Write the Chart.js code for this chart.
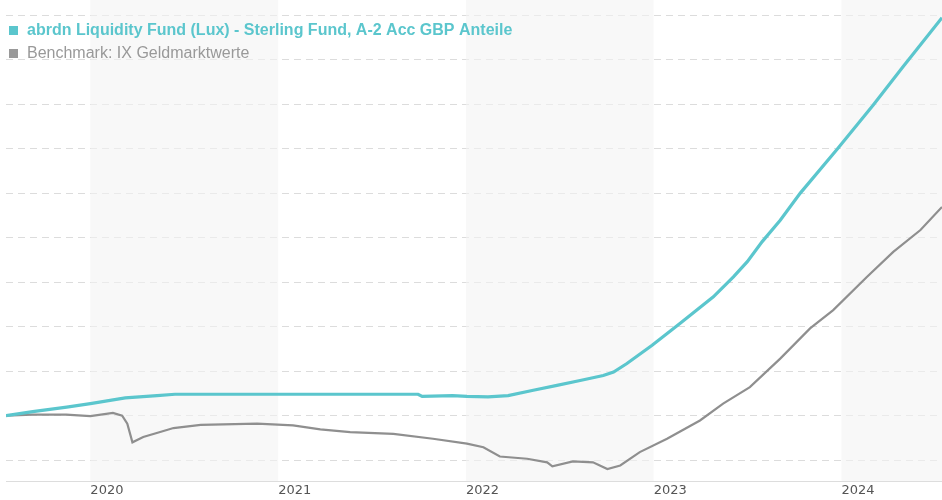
<!DOCTYPE html>
<html>
<head>
<meta charset="utf-8">
<script src="https://cdn.jsdelivr.net/npm/chart.js@4"></script>
<style>
  html, body { margin: 0; padding: 0; background: #ffffff; }
  #wrap { position: relative; width: 942px; height: 500px; }
</style>
</head>
<body>
<div id="wrap"><canvas id="c" width="942" height="500"></canvas></div>
<script>
// ---- Data (cumulative performance, %) ----
const fundName = 'abrdn Liquidity Fund (Lux) - Sterling Fund, A-2 Acc GBP Anteile';
const benchName = 'Benchmark: IX Geldmarktwerte';

const fundDates = ['2019-07-21','2019-09-11','2019-11-16','2020-01-01','2020-03-09','2020-05-10','2020-06-14',
  '2021-09-30','2021-10-08','2021-12-06','2022-01-03','2022-02-13','2022-03-24','2022-05-12','2022-06-27',
  '2022-08-11','2022-09-25','2022-10-15','2022-11-10','2022-12-29','2023-02-21','2023-04-27','2023-06-05',
  '2023-07-02','2023-07-31','2023-09-04','2023-10-13','2023-12-24','2024-03-03','2024-04-30','2024-07-15'];
const fundValues = [0.00, 0.09, 0.19, 0.27, 0.40, 0.45, 0.48,
  0.48, 0.43, 0.45, 0.43, 0.42, 0.45, 0.57, 0.68,
  0.79, 0.90, 0.98, 1.17, 1.58, 2.07, 2.67, 3.12,
  3.46, 3.91, 4.39, 5.00, 5.99, 6.98, 7.84, 8.94];

const benchDates = ['2019-07-21','2019-09-10','2019-11-15','2020-01-01','2020-02-14','2020-03-03','2020-03-13',
  '2020-03-23','2020-04-13','2020-05-16','2020-06-11','2020-08-03','2020-11-21','2021-01-30','2021-03-24',
  '2021-05-21','2021-08-13','2021-10-29','2022-01-03','2022-02-04','2022-03-08','2022-04-30','2022-06-08',
  '2022-06-18','2022-07-28','2022-09-05','2022-10-03','2022-10-28','2022-12-05','2023-01-27','2023-04-01',
  '2023-05-16','2023-07-07','2023-09-04','2023-11-01','2023-12-16','2024-02-20','2024-04-11','2024-06-03','2024-07-15'];
const benchValues = [0.00, 0.02, 0.02, -0.01, 0.06, 0.00, -0.18,
  -0.60, -0.48, -0.37, -0.28, -0.21, -0.18, -0.22, -0.31,
  -0.37, -0.41, -0.52, -0.63, -0.71, -0.92, -0.97, -1.05,
  -1.14, -1.03, -1.05, -1.20, -1.12, -0.82, -0.52, -0.11,
  0.27, 0.64, 1.28, 1.96, 2.37, 3.12, 3.68, 4.17, 4.69];

const yearTicks = [2020, 2021, 2022, 2023, 2024];
const shadedYears = [2020, 2022, 2024];
const yGridValues = [-1, 0, 1, 2, 3, 4, 5, 6, 7, 8, 9];

// ---- helpers ----
function decYear(s) {
  const d = new Date(s + 'T00:00:00Z');
  const y = d.getUTCFullYear();
  const a = Date.UTC(y, 0, 1), b = Date.UTC(y + 1, 0, 1);
  return y + (d.getTime() - a) / (b - a);
}
function pts(dates, vals) { return dates.map((d, i) => ({ x: decYear(d), y: vals[i] })); }

const teal = '#5bc6cd';
const grey = '#8f8f8f';

const bandsPlugin = {
  id: 'bands',
  beforeDatasetsDraw(chart) {
    const { ctx, chartArea, scales } = chart;
    ctx.save();
    ctx.fillStyle = 'rgba(243,243,243,0.6)';
    shadedYears.forEach(y => {
      const x0 = Math.max(chartArea.left, scales.x.getPixelForValue(y));
      const x1 = Math.min(chartArea.right, scales.x.getPixelForValue(y + 1));
      if (x1 > x0) ctx.fillRect(x0, 0, x1 - x0, chartArea.bottom - 1);
    });
    ctx.restore();
  }
};

const legendPlugin = {
  id: 'customLegend',
  afterDraw(chart) {
    const ctx = chart.ctx;
    ctx.save();
    ctx.textBaseline = 'alphabetic';
    ctx.textAlign = 'left';
    ctx.fillStyle = teal;
    ctx.fillRect(9, 26, 9, 9);
    ctx.font = 'bold 16px "Liberation Sans", Arial, sans-serif';
    ctx.fillText(fundName, 27, 35);
    ctx.fillStyle = '#999999';
    ctx.fillRect(9, 49, 9, 9);
    ctx.font = '16px "Liberation Sans", Arial, sans-serif';
    ctx.fillText(benchName, 27, 58);
    ctx.restore();
  }
};

const xMin = decYear(fundDates[0]);
const xMax = decYear(fundDates[fundDates.length - 1]);

new Chart(document.getElementById('c'), {
  type: 'line',
  data: {
    datasets: [
      { label: fundName, data: pts(fundDates, fundValues), borderColor: teal, borderWidth: 3.2,
        pointRadius: 0, tension: 0, fill: false, order: 1 },
      { label: benchName, data: pts(benchDates, benchValues), borderColor: grey, borderWidth: 2.2,
        pointRadius: 0, tension: 0, fill: false, order: 2 }
    ]
  },
  options: {
    responsive: false,
    animation: false,
    devicePixelRatio: 1,
    layout: { padding: { left: 6, right: 0, top: 0, bottom: 0.5 } },
    plugins: { legend: { display: false }, tooltip: { enabled: false } },
    scales: {
      x: {
        type: 'linear', min: xMin, max: xMax,
        afterBuildTicks(scale) { scale.ticks = yearTicks.map(v => ({ value: v })); },
        grid: { display: false, drawTicks: false },
        border: { display: true, color: '#dddddd', width: 1 },
        ticks: {
          align: 'start', padding: 1, maxRotation: 0, autoSkip: false,
          color: '#555555', font: { family: '"DejaVu Sans", Verdana, sans-serif', size: 13 },
          callback: v => String(v)
        }
      },
      y: {
        type: 'linear', min: -1.49, max: 9.34,
        afterBuildTicks(scale) { scale.ticks = yGridValues.map(v => ({ value: v })); },
        ticks: { display: false },
        grid: { color: '#dcdcdc', lineWidth: 1, drawTicks: false },
        border: { display: false, dash: [7, 5] }
      }
    }
  },
  plugins: [bandsPlugin, legendPlugin]
});
</script>
</body>
</html>
